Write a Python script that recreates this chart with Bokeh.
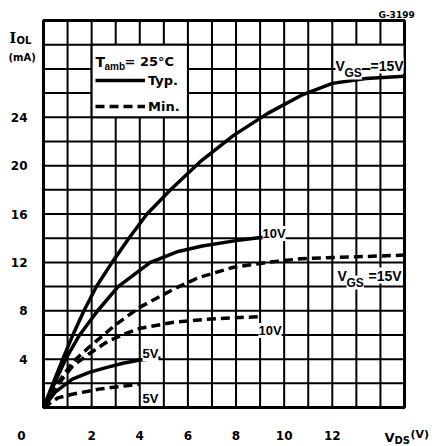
from bokeh.plotting import figure
from bokeh.models import Range1d, Label, Legend, LegendItem
from bokeh.core.properties import value
from bokeh.embed import file_html
from bokeh.resources import INLINE

# ---- data (V_DS in V, I_OL in mA) ----
typ15_vds = [0, 0.8, 1.22, 1.68, 2.2, 2.85, 3.55, 4.3, 5.28, 6.5, 7.9, 9.3, 10.7, 12.0, 13.4, 15.0]
typ15_iol = [0, 4.0, 6.0, 8.0, 10.0, 12.0, 14.0, 16.0, 18.0, 20.3, 22.5, 24.3, 25.8, 26.8, 27.2, 27.4]
typ10_vds = [0, 0.92, 1.5, 2.25, 3.1, 4.44, 5.6, 6.6, 8.0, 9.2]
typ10_iol = [0, 4.0, 6.0, 8.0, 10.0, 12.0, 12.9, 13.35, 13.8, 14.1]
typ5_vds = [0, 0.5, 1.2, 1.9, 2.6, 3.3, 4.0, 4.86]
typ5_iol = [0, 1.3, 2.35, 2.9, 3.3, 3.66, 3.93, 4.1]
min15_vds = [0, 0.6, 1.2, 1.9, 3.03, 4.01, 5.42, 6.45, 7.9, 9.3, 10.7, 12.1, 15.0]
min15_iol = [0, 2.0, 3.74, 5.0, 6.9, 8.3, 9.8, 10.75, 11.6, 12.0, 12.3, 12.4, 12.6]
min10_vds = [0, 0.6, 1.2, 1.9, 2.65, 3.4, 4.02, 5.41, 6.8, 8.18, 9.0]
min10_iol = [0, 1.9, 3.4, 4.45, 5.45, 6.1, 6.55, 7.05, 7.3, 7.45, 7.5]
min5_vds = [0, 0.6, 1.2, 2.3, 3.45, 4.0]
min5_iol = [0, 0.8, 1.1, 1.52, 1.8, 1.94]

x_ticks = [2, 4, 6, 8, 10, 12]
y_ticks = [4, 8, 12, 16, 20, 24]
x_grid = list(range(0, 16))
y_grid = list(range(0, 33, 2))
X_MAX, Y_MAX = 15, 32

# ---- geometry: grid area in canvas pixels ----
W, H = 433, 446
GL, GR, GT, GB = 43, 404, 20, 407


def dx(px):
    return (px - GL) / (GR - GL) * X_MAX


def dy(py):
    return (GB - py) / (GB - GT) * Y_MAX


p = figure(width=W, height=H,
           x_range=Range1d(dx(0), dx(W)), y_range=Range1d(dy(H), dy(0)),
           output_backend="svg", toolbar_location=None,
           min_border=0, x_axis_type=None, y_axis_type=None)
p.background_fill_color = "white"
p.border_fill_color = "white"
p.outline_line_color = None
p.xgrid.visible = False
p.ygrid.visible = False

# grid lines through the data scales
p.segment(x0=x_grid, y0=[0] * len(x_grid), x1=x_grid, y1=[Y_MAX] * len(x_grid),
          line_color="black", line_width=2)
p.segment(x0=[0] * len(y_grid), y0=y_grid, x1=[X_MAX] * len(y_grid), y1=y_grid,
          line_color="black", line_width=2)
p.quad(left=0, right=X_MAX, bottom=0, top=Y_MAX, fill_color=None,
       line_color="black", line_width=3)

# white boxes for legend / label cells
p.quad(left=2, right=6, bottom=24, top=30, fill_color="white", line_color="black", line_width=2)
p.quad(left=12, right=15, bottom=28, top=30, fill_color="white", line_color="black", line_width=2)

LW = 3.5
DASH = "9 5"
r_t15 = p.line(typ15_vds, typ15_iol, line_color="black", line_width=LW, line_join="round")
p.line(typ10_vds, typ10_iol, line_color="black", line_width=LW, line_join="round")
p.line(typ5_vds, typ5_iol, line_color="black", line_width=LW, line_join="round")
r_m15 = p.line(min15_vds, min15_iol, line_color="black", line_width=LW, line_dash=DASH)
p.line(min10_vds, min10_iol, line_color="black", line_width=LW, line_dash=DASH)
p.line(min5_vds, min5_iol, line_color="black", line_width=LW, line_dash=DASH)

FONT = "DejaVu Sans"
LIB = "Liberation Sans"

# tick labels
p.text(x=x_ticks, y=[dy(435)] * len(x_ticks), text=[str(t) for t in x_ticks],
       text_font=value(FONT), text_font_style="bold", text_font_size="12px",
       text_align="center", text_baseline="middle", text_color="black")
p.text(x=[dx(27)] * len(y_ticks), y=y_ticks, text=[str(t) for t in y_ticks],
       text_font=value(FONT), text_font_style="bold", text_font_size="12px",
       text_align="right", text_baseline="middle", text_color="black")

legend = Legend(items=[LegendItem(label="Typ.", renderers=[r_t15]),
                       LegendItem(label="Min.", renderers=[r_m15])],
                location=(95, H - 114), padding=0, margin=0, spacing=10,
                glyph_width=50, glyph_height=16, label_height=16, label_standoff=3,
                border_line_color=None, background_fill_alpha=0,
                label_text_font=FONT, label_text_font_style="bold",
                label_text_font_size="13px", label_text_color="black")
p.add_layout(legend)


def txt(text, left, base, size, font=FONT, align="left", baseline="alphabetic", bg=False):
    lab = Label(x=dx(left), y=dy(base), text=text, text_font=font,
                text_font_size=f"{size}px", text_font_style="bold",
                text_align=align, text_baseline=baseline, text_color="black")
    if bg:
        lab.background_fill_color = "white"
    p.add_layout(lab)


# axis titles
txt("I", 9, 37, 14, font="DejaVu Serif")
txt("OL", 16, 40, 10)
txt("(mA)", 8, 57, 10)
txt("0", 21, 435, 12, align="center", baseline="middle")
txt("V", 384, 437, 13)
txt("DS", 394, 440, 10)
txt("(V)", 410, 434, 11)
txt("G-3199", 378, 14, 9)

# legend title
txt("T", 95, 61, 14)
txt("amb", 104, 66, 10, font=LIB)
txt("= 25°C", 124, 61, 13)

# curve labels
txt("V", 335, 65, 14, font=LIB, bg=True)
txt("GS", 344, 72, 12, font=LIB, bg=True)
txt("=15V", 370, 65, 14, font=LIB, bg=True)

txt("V", 337, 275, 14, font=LIB, bg=True)
txt("GS", 346, 282, 12, font=LIB, bg=True)
txt("=15V", 368, 275, 14, font=LIB, bg=True)

txt("10V", 262, 233, 13, font=LIB, bg=True)
txt("10V", 258, 330, 13, font=LIB, bg=True)
txt("5V", 142, 353, 13, font=LIB, bg=True)
txt("5V", 142, 398, 13, font=LIB, bg=True)

open("out.html", "w").write(file_html(p, INLINE))
